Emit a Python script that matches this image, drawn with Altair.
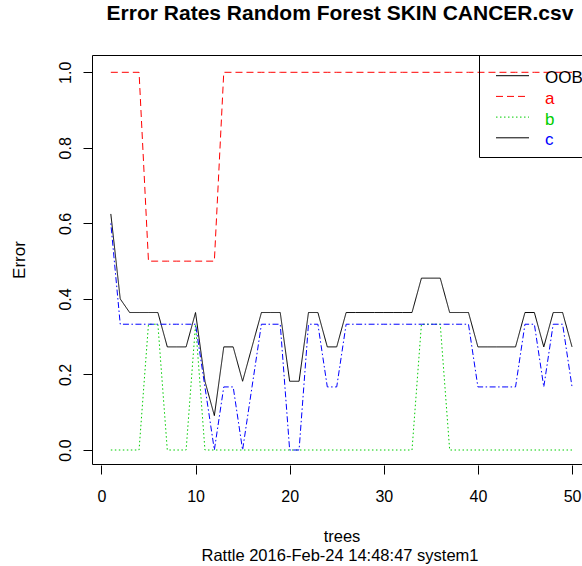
import altair as alt
import pandas as pd

trees = list(range(1, 51))
oob = [0.625, 0.4, 0.364, 0.364, 0.364, 0.364, 0.273, 0.273, 0.273, 0.364,
       0.182, 0.091, 0.273, 0.273, 0.182, 0.273, 0.364, 0.364, 0.364, 0.182,
       0.182, 0.364, 0.364, 0.273, 0.273, 0.364, 0.364, 0.364, 0.364, 0.364,
       0.364, 0.364, 0.364, 0.455, 0.455, 0.455, 0.364, 0.364, 0.364, 0.273,
       0.273, 0.273, 0.273, 0.273, 0.364, 0.364, 0.273, 0.364, 0.364, 0.273]
err_a = [1.0, 1.0, 1.0, 1.0, 0.5, 0.5, 0.5, 0.5, 0.5, 0.5,
         0.5, 0.5, 1.0, 1.0, 1.0, 1.0, 1.0, 1.0, 1.0, 1.0,
         1.0, 1.0, 1.0, 1.0, 1.0, 1.0, 1.0, 1.0, 1.0, 1.0,
         1.0, 1.0, 1.0, 1.0, 1.0, 1.0, 1.0, 1.0, 1.0, 1.0,
         1.0, 1.0, 1.0, 1.0, 1.0, 1.0, 1.0, 1.0, 1.0, 1.0]
err_b = [0.0, 0.0, 0.0, 0.0, 0.333, 0.333, 0.0, 0.0, 0.0, 0.333,
         0.0, 0.0, 0.0, 0.0, 0.0, 0.0, 0.0, 0.0, 0.0, 0.0,
         0.0, 0.0, 0.0, 0.0, 0.0, 0.0, 0.0, 0.0, 0.0, 0.0,
         0.0, 0.0, 0.0, 0.333, 0.333, 0.333, 0.0, 0.0, 0.0, 0.0,
         0.0, 0.0, 0.0, 0.0, 0.0, 0.0, 0.0, 0.0, 0.0, 0.0]
err_c = [0.6, 0.333, 0.333, 0.333, 0.333, 0.333, 0.333, 0.333, 0.333, 0.333,
         0.167, 0.0, 0.167, 0.167, 0.0, 0.167, 0.333, 0.333, 0.333, 0.0,
         0.0, 0.333, 0.333, 0.167, 0.167, 0.333, 0.333, 0.333, 0.333, 0.333,
         0.333, 0.333, 0.333, 0.333, 0.333, 0.333, 0.333, 0.333, 0.333, 0.167,
         0.167, 0.167, 0.167, 0.167, 0.333, 0.333, 0.167, 0.333, 0.333, 0.167]

series_names = ["OOB", "a", "b", "c"]
series_colors = ["#000000", "#FF0000", "#00CD00", "#0000FF"]
series_dashes = [[1, 0], [7, 4], [1.5, 2.5], [1.5, 2.5, 6, 2.5]]
legend_line_colors = ["#000000", "#FF0000", "#00CD00", "#000000"]
legend_line_dashes = [[1, 0], [7, 4], [1.5, 2.5], [1, 0]]

x_ticks = [0, 10, 20, 30, 40, 50]
y_ticks = [0.0, 0.2, 0.4, 0.6, 0.8, 1.0]

title_text = "Error Rates Random Forest SKIN CANCER.csv"
x_title = "trees"
y_title = "Error"
sub_text = "Rattle 2016-Feb-24 14:48:47 system1"

FONT = "Liberation Sans"
W, H = 490, 410

rows = []
for name, vals in zip(series_names, [oob, err_a, err_b, err_c]):
    for t, v in zip(trees, vals):
        rows.append({"tree": t, "series": name, "error": v})
df = pd.DataFrame(rows)

lines = alt.Chart(df).mark_line(strokeWidth=1, clip=False).encode(
    x=alt.X("tree:Q",
            scale=alt.Scale(domain=[-1.0, 51.06], nice=False, zero=False),
            axis=alt.Axis(values=x_ticks, format="d", title="", labelBaseline="alphabetic",
                          labelPadding=27.5)),
    y=alt.Y("error:Q",
            scale=alt.Scale(domain=[-0.0397, 1.0458], nice=False, zero=False),
            axis=alt.Axis(values=y_ticks, format=".1f", title="", labelAngle=270,
                          labelAlign="center", labelBaseline="alphabetic", labelPadding=13)),
    color=alt.Color("series:N", scale=alt.Scale(domain=series_names, range=series_colors), legend=None),
    strokeDash=alt.StrokeDash("series:N", scale=alt.Scale(domain=series_names, range=series_dashes), legend=None),
    detail="series:N",
)

one = pd.DataFrame({"k": [0]})

def rule(x, x2, y, y2, **kw):
    return alt.Chart(one).mark_rule(**kw).encode(
        x=alt.value(x), x2=alt.value(x2), y=alt.value(y), y2=alt.value(y2))

def text(s, x, y, **kw):
    return alt.Chart(one).mark_text(text=s, font=FONT, **kw).encode(
        x=alt.value(x), y=alt.value(y))

frame = [
    rule(0.5, 0.5, 0.5, H - 0.5, color="black", strokeWidth=1),
    rule(0.5, 700, 0.5, 0.5, color="black", strokeWidth=1),
    rule(0.5, 700, H - 0.5, H - 0.5, color="black", strokeWidth=1),
]

legend_parts = [
    alt.Chart(one).mark_rect(fill=None, fillOpacity=0, stroke="black", strokeWidth=1).encode(
        x=alt.value(387.5), x2=alt.value(700), y=alt.value(0.5), y2=alt.value(102.5)),
]
row_y = [20.7, 41.4, 62.1, 82.8]
for i, name in enumerate(series_names):
    legend_parts.append(rule(404, 437, row_y[i], row_y[i], color=legend_line_colors[i],
                             strokeWidth=1, strokeDash=legend_line_dashes[i]))
    legend_parts.append(text(name, 453, row_y[i] + 7.5, align="left", baseline="alphabetic",
                             fontSize=17, color=series_colors[i]))

texts = [
    text(title_text, 248, -35, align="center", baseline="alphabetic", fontSize=21,
         fontWeight="bold", color="black"),
    text(x_title, 250, 486.5, align="center", baseline="alphabetic", fontSize=16.5, color="black"),
    text(sub_text, 248, 505.5, align="center", baseline="alphabetic", fontSize=16.5, color="black"),
    text(y_title, -67.5, H / 2, align="center", baseline="alphabetic", fontSize=17,
         angle=270, color="black"),
]

chart = alt.layer(lines, *frame, *legend_parts, *texts).properties(
    width=W, height=H,
    padding={"left": 92, "top": 55, "right": 0, "bottom": 101},
    autosize=alt.AutoSizeParams(type="none"),
    background="white",
).configure_view(strokeWidth=0).configure_axis(
    domain=False, grid=False, tickColor="black", tickSize=9, tickWidth=1,
    labelColor="black", labelFont=FONT, labelFontSize=16,
)

chart.save("out.html", embed_options={"renderer": "svg", "actions": False})
